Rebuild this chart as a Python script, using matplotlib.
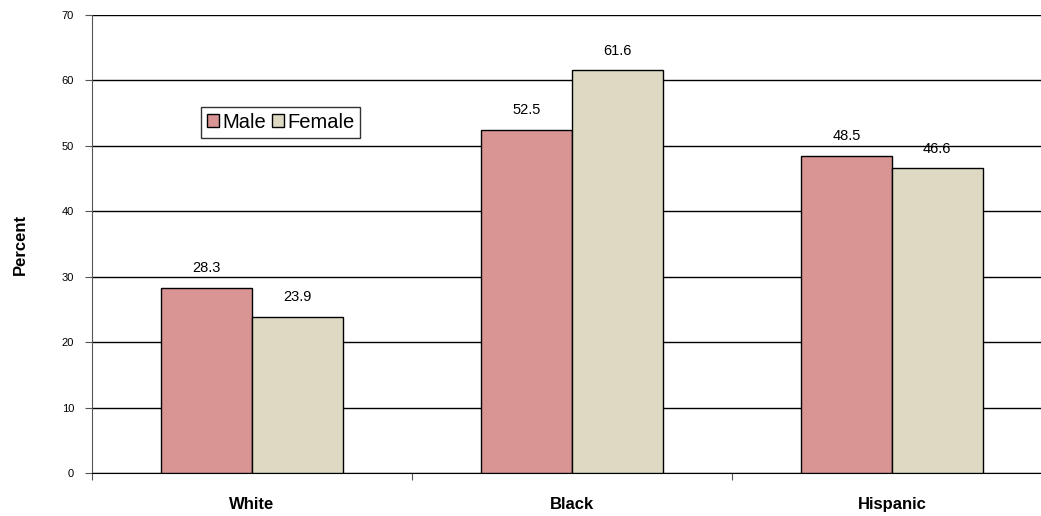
import matplotlib.pyplot as plt
import numpy as np

plt.rcParams['font.family'] = ['Liberation Sans', 'DejaVu Sans']

groups = ['White', 'Black', 'Hispanic']
male = [28.3, 52.5, 48.5]
female = [23.9, 61.6, 46.6]

fig = plt.figure(figsize=(10.41, 5.16), dpi=100)
ax = fig.add_axes([0.0884, 0.0833, 0.922, 0.8876])

x = np.arange(len(groups))
w = 0.284
b1 = ax.bar(x - w / 2, male, w, color='#D99594', edgecolor='black', linewidth=1, label='Male', zorder=3)
b2 = ax.bar(x + w / 2, female, w, color='#DDD9C3', edgecolor='black', linewidth=1, label='Female', zorder=3)

for bars, vals in [(b1, male), (b2, female)]:
    for r, v in zip(bars, vals):
        ax.text(r.get_x() + r.get_width() / 2, v + 1.9, f'{v:.1f}', ha='center', va='bottom', fontsize=10.5)

ax.set_xlim(-0.5, 2.5)
ax.set_ylim(0, 70)
ax.set_yticks(range(0, 71, 10))
ax.yaxis.grid(True, color='black', linewidth=1, zorder=0)
ax.tick_params(axis='y', labelsize=8, length=5, width=0.8, colors='#555555', labelcolor='black', pad=8)

ax.set_xticks([-0.5, 0.5, 1.5])
ax.set_xticklabels([])
ax.set_xticks(x, minor=True)
ax.set_xticklabels(groups, minor=True, fontsize=12, fontweight='bold')
ax.tick_params(axis='x', which='major', length=5, width=0.8, colors='#555555')
ax.tick_params(axis='x', which='minor', length=0, pad=17)

for s in ['top', 'right']:
    ax.spines[s].set_visible(False)
ax.spines['left'].set_color('#555555')
ax.spines['bottom'].set_color('black')

ax.set_ylabel('Percent', fontsize=12, fontweight='bold', labelpad=24)

leg = ax.legend(loc='upper left', bbox_to_anchor=(0.193, 0.793), bbox_transform=fig.transFigure,
                ncol=2, fontsize=14.5, frameon=True, fancybox=False, edgecolor='black',
                handlelength=0.6, handleheight=0.6, handletextpad=0.15, columnspacing=0.3,
                borderpad=0.3, borderaxespad=0)
leg.get_frame().set_linewidth(1)

fig.savefig('out.png', dpi=100)
